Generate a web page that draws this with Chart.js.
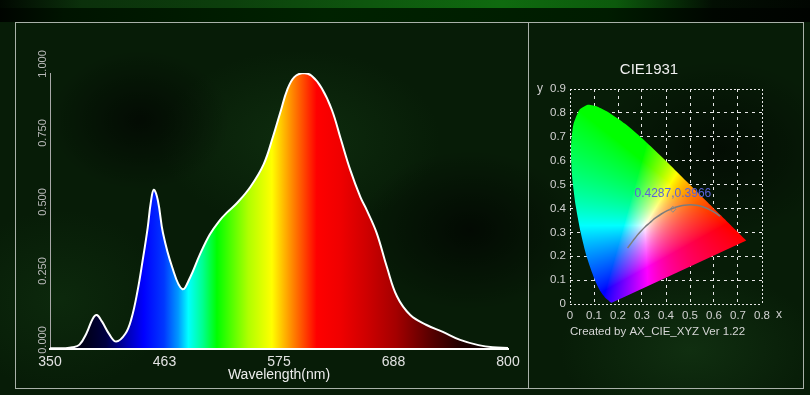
<!DOCTYPE html>
<html>
<head>
<meta charset="utf-8">
<script src="https://cdn.jsdelivr.net/npm/chart.js@4.4.1/dist/chart.umd.min.js"></script>
<style>
  html, body { margin: 0; padding: 0; }
  body {
    width: 810px; height: 395px; overflow: hidden; position: relative;
    background:
      radial-gradient(ellipse 90px 70px at 140px 120px, rgba(0,0,0,0.6), transparent),
      radial-gradient(ellipse 110px 80px at 470px 230px, rgba(0,0,0,0.65), transparent),
      radial-gradient(ellipse 120px 90px at 720px 150px, rgba(0,0,0,0.55), transparent),
      radial-gradient(ellipse 140px 90px at 300px 140px, rgba(25,70,25,0.4), transparent),
      radial-gradient(ellipse 130px 80px at 690px 350px, rgba(25,65,25,0.5), transparent),
      radial-gradient(ellipse 110px 90px at 60px 300px, rgba(20,60,20,0.4), transparent),
      #071c07;
  }
  #band1 {
    position: absolute; left: 0; top: 0; width: 810px; height: 8px;
    background: linear-gradient(90deg, #010801 0%, #0b300b 10%, #0c3f0c 28%, #0e560e 45%, #0f6b0f 62%, #0c5a0c 76%, #030f03 88%, #010601 100%);
  }
  #band2 {
    position: absolute; left: 0; top: 8px; width: 810px; height: 14px;
    background: linear-gradient(90deg, #000400 0%, #001400 8%, #002200 40%, #001c00 75%, #000600 88%, #000300 100%);
  }
  .panel { position: absolute; border: 1px solid #a9b1a9; box-sizing: border-box; }
  #specCanvas { position: absolute; left: 0; top: 0; }
  #cieCanvas { position: absolute; left: 536px; top: 23px; }
</style>
</head>
<body>
<div id="band1"></div>
<div id="band2"></div>
<div class="panel" style="left:15px; top:22px; width:514px; height:367px;"></div>
<div class="panel" style="left:528px; top:22px; width:276px; height:367px;"></div>
<canvas id="specCanvas" width="528" height="390"></canvas>
<canvas id="cieCanvas" width="260" height="364"></canvas>
<script>
Chart.defaults.font.family = '"Liberation Sans", Arial, sans-serif';

// spectrum readings (nm, relative intensity)
const wavelengths = [350, 365, 372, 379, 386, 392, 396, 401, 408, 415, 424, 430, 436, 441, 446, 449, 452, 456, 461, 470,
  480, 488, 497, 507, 517, 524, 534, 547, 560, 569, 577, 583, 590, 599, 607, 617, 627, 636, 645,
  655, 661, 671, 681, 691, 704, 720, 736, 753, 771, 785, 800];
const intensity = [0.003, 0.003, 0.006, 0.016, 0.058, 0.11, 0.123, 0.10, 0.055, 0.027, 0.055, 0.11, 0.21, 0.32, 0.44, 0.53, 0.577, 0.538, 0.42, 0.297,
  0.217, 0.262, 0.34, 0.415, 0.467, 0.495, 0.53, 0.588, 0.67, 0.768, 0.866, 0.938, 0.985, 1.0, 0.99, 0.945, 0.866, 0.757, 0.649,
  0.55, 0.505, 0.42, 0.297, 0.19, 0.123, 0.087, 0.062, 0.033, 0.014, 0.006, 0.004];
const xTickValues = [350, 462.5, 575, 687.5, 800];
const yTickValues = [0, 0.25, 0.5, 0.75, 1.0];

// colour of the fill along the wavelength axis
const fillStops = [350, 385, 405, 425, 442, 462, 476, 486, 500, 514, 545, 568, 588, 612, 635, 660, 690, 725, 755, 800];
const fillColors = ['#000008', '#00001a', '#000040', '#0000b0', '#0000ff', '#0038ff', '#0098ff', '#00ffff', '#00ff90', '#00ff00',
  '#b0ff00', '#ffff00', '#ff8800', '#ff0000', '#f00000', '#d00000', '#a40000', '#560000', '#1e0000', '#000000'];

// CIE 1931 spectral locus (x, y)
const locusX = [0.1741, 0.1733, 0.1714, 0.1689, 0.1644, 0.1566, 0.1440, 0.1241, 0.1096, 0.0913, 0.0687, 0.0454, 0.0235, 0.0082, 0.0039,
  0.0139, 0.0389, 0.0743, 0.1142, 0.1547, 0.2296, 0.3016, 0.3731, 0.4441, 0.5125, 0.5752, 0.6270, 0.6658, 0.6915, 0.7079, 0.7190, 0.7260, 0.7347];
const locusY = [0.0050, 0.0048, 0.0051, 0.0069, 0.0109, 0.0177, 0.0297, 0.0578, 0.0868, 0.1327, 0.2007, 0.2950, 0.4127, 0.5384, 0.6548,
  0.7502, 0.8120, 0.8338, 0.8262, 0.8059, 0.7543, 0.6923, 0.6245, 0.5547, 0.4866, 0.4242, 0.3725, 0.3340, 0.3083, 0.2920, 0.2809, 0.2740, 0.2653];
// black body curve
const planckX = [0.2399, 0.2637, 0.2807, 0.2952, 0.3135, 0.3324, 0.3451, 0.3608, 0.3805, 0.4053, 0.4369, 0.4599, 0.4770, 0.5018, 0.5267, 0.5496, 0.5857, 0.6106, 0.6250];
const planckY = [0.2340, 0.2664, 0.2884, 0.3048, 0.3237, 0.3400, 0.3516, 0.3635, 0.3768, 0.3907, 0.4041, 0.4106, 0.4137, 0.4153, 0.4133, 0.4081, 0.3931, 0.3786, 0.3672];
const measured = { x: 0.4287, y: 0.3966 };
const cieXTicks = [0, 0.1, 0.2, 0.3, 0.4, 0.5, 0.6, 0.7, 0.8];
const cieYTicks = [0, 0.1, 0.2, 0.3, 0.4, 0.5, 0.6, 0.7, 0.8, 0.9];

function spectrumFill(context) {
  const chart = context.chart;
  if (!chart.chartArea) return 'rgba(0,0,0,0)';
  const xs = chart.scales.x;
  const g = chart.ctx.createLinearGradient(xs.getPixelForValue(350), 0, xs.getPixelForValue(800), 0);
  fillStops.forEach((nm, i) => g.addColorStop((nm - 350) / 450, fillColors[i]));
  return g;
}

new Chart(document.getElementById('specCanvas'), {
  type: 'line',
  data: {
    datasets: [{
      data: wavelengths.map((w, i) => ({ x: w, y: intensity[i] })),
      borderColor: '#ffffff',
      borderWidth: 2,
      pointRadius: 0,
      tension: 0.4,
      fill: 'origin',
      backgroundColor: spectrumFill
    }]
  },
  options: {
    responsive: false,
    animation: false,
    layout: { padding: { left: 0, right: 20, top: 73, bottom: 0 } },
    plugins: { legend: { display: false }, tooltip: { enabled: false } },
    scales: {
      x: {
        type: 'linear', min: 350, max: 800,
        afterBuildTicks: s => { s.ticks = xTickValues.map(v => ({ value: v })); },
        afterFit: s => { s.height = 41; },
        grid: { display: false, drawTicks: false },
        border: { display: true, color: '#ffffff', width: 2, z: 1 },
        ticks: { color: '#e2e2e2', font: { size: 14 }, padding: 5, maxRotation: 0, callback: v => v.toFixed(0) },
        title: { display: true, text: 'Wavelength(nm)', color: '#ececec', font: { size: 14 }, padding: { top: 0, bottom: 6.6 } }
      },
      y: {
        min: 0, max: 1,
        afterBuildTicks: s => { s.ticks = yTickValues.map(v => ({ value: v })); },
        afterFit: s => { s.width = 50; },
        grid: { display: false, drawTicks: false },
        border: { display: true, color: '#a8a8a8', width: 1 },
        ticks: { color: '#b8b8b8', font: { size: 11 }, minRotation: 90, maxRotation: 90, crossAlign: 'center', padding: -7, labelOffset: -9, callback: v => v.toFixed(3) }
      }
    }
  }
});

// chromaticity colours painted through the scales, used as the fill pattern
let ciePattern = null;
function xyColor(x, y) {
  const X = x / y, Y = 1, Z = (1 - x - y) / y;
  let r = 3.2406 * X - 1.5372 * Y - 0.4986 * Z;
  let g = -0.9689 * X + 1.8758 * Y + 0.0415 * Z;
  let b = 0.0557 * X - 0.2040 * Y + 1.0570 * Z;
  r = Math.max(r, 0); g = Math.max(g, 0); b = Math.max(b, 0);
  const m = Math.max(r, g, b) || 1;
  const enc = c => 255 * Math.pow(c / m, 0.75);
  return [enc(r), enc(g), enc(b)];
}
function cieFill(context) {
  const chart = context.chart;
  const a = chart.chartArea;
  if (!a) return 'rgba(0,0,0,0)';
  if (ciePattern) return ciePattern;
  const off = document.createElement('canvas');
  off.width = chart.width; off.height = chart.height;
  const octx = off.getContext('2d');
  const w = Math.ceil(a.right - a.left), h = Math.ceil(a.bottom - a.top);
  const img = octx.createImageData(w, h);
  const xs = chart.scales.x, ys = chart.scales.y;
  for (let py = 0; py < h; py++) {
    const cy = Math.max(ys.getValueForPixel(a.top + py + 0.5), 0.002);
    for (let px = 0; px < w; px++) {
      const cx = xs.getValueForPixel(a.left + px + 0.5);
      const c = xyColor(cx, cy);
      const k = (py * w + px) * 4;
      img.data[k] = c[0]; img.data[k + 1] = c[1]; img.data[k + 2] = c[2]; img.data[k + 3] = 255;
    }
  }
  octx.putImageData(img, Math.floor(a.left), Math.floor(a.top));
  ciePattern = chart.ctx.createPattern(off, 'no-repeat');
  return ciePattern;
}

const cieText = {
  id: 'cieText',
  afterDraw(chart) {
    const { ctx, chartArea: a, scales: { x, y } } = chart;
    ctx.save();
    ctx.font = '12px "Liberation Sans", Arial, sans-serif';
    ctx.fillStyle = '#cfcfcf';
    ctx.textAlign = 'center';
    ctx.textBaseline = 'middle';
    ctx.fillText('y', a.left - 30, y.getPixelForValue(0.9));
    ctx.fillText('x', x.getPixelForValue(0.8) + 17, a.bottom + 11);
    const pt = chart.getDatasetMeta(0).data[0];
    ctx.fillStyle = '#5a62d8';
    ctx.fillText(measured.x + ',' + measured.y, pt.x, pt.y - 16);
    ctx.restore();
  }
};

const cieLabel = v => (v === 0 ? '0' : v.toFixed(1));

new Chart(document.getElementById('cieCanvas'), {
  type: 'scatter',
  data: {
    datasets: [
      {
        data: [measured],
        pointStyle: 'rectRot', pointRadius: 3, borderColor: '#8a8a8a', borderWidth: 1, backgroundColor: 'rgba(0,0,0,0)'
      },
      {
        data: planckX.map((v, i) => ({ x: v, y: planckY[i] })),
        showLine: true, pointRadius: 0, borderColor: '#7c7c7c', borderWidth: 1.5, cubicInterpolationMode: 'monotone'
      },
      {
        data: locusX.map((v, i) => ({ x: v, y: locusY[i] })),
        showLine: true, pointRadius: 0, borderWidth: 0, borderColor: 'rgba(0,0,0,0)',
        tension: 0.2, fill: 'shape', backgroundColor: cieFill
      }
    ]
  },
  options: {
    responsive: false,
    animation: false,
    layout: { padding: { left: 0, right: 34, top: 0, bottom: 0 } },
    plugins: {
      legend: { display: false }, tooltip: { enabled: false },
      title: { display: true, text: 'CIE1931', color: '#f0f0f0', font: { size: 15, weight: 'normal' }, padding: { top: 38, bottom: 10 } }
    },
    scales: {
      x: {
        type: 'linear', min: 0, max: 0.8,
        afterBuildTicks: s => { s.ticks = cieXTicks.map(v => ({ value: v })); },
        afterFit: s => { s.height = 83; },
        grid: { color: '#e6e6e6', lineWidth: 1, drawTicks: false },
        border: { display: false, dash: c => (c.index === 0 || c.index === cieXTicks.length - 1 ? [2, 2] : [3, 4]) },
        ticks: { color: '#d2d2d2', font: { size: 11.5 }, padding: 5, maxRotation: 0, callback: cieLabel },
        title: { display: true, text: 'Created by AX_CIE_XYZ Ver 1.22', align: 'start', color: '#d6d6d6', font: { size: 11.5 }, padding: { top: 0, bottom: 48 } }
      },
      y: {
        min: 0, max: 0.9,
        afterBuildTicks: s => { s.ticks = cieYTicks.map(v => ({ value: v })); },
        afterFit: s => { s.width = 34; },
        grid: { color: '#e6e6e6', lineWidth: 1, drawTicks: false },
        border: { display: false, dash: c => (c.index === 0 || c.index === cieYTicks.length - 1 ? [2, 2] : [3, 4]) },
        ticks: { color: '#d2d2d2', font: { size: 11.5 }, padding: 4, callback: cieLabel }
      }
    }
  },
  plugins: [cieText]
});
</script>
</body>
</html>
